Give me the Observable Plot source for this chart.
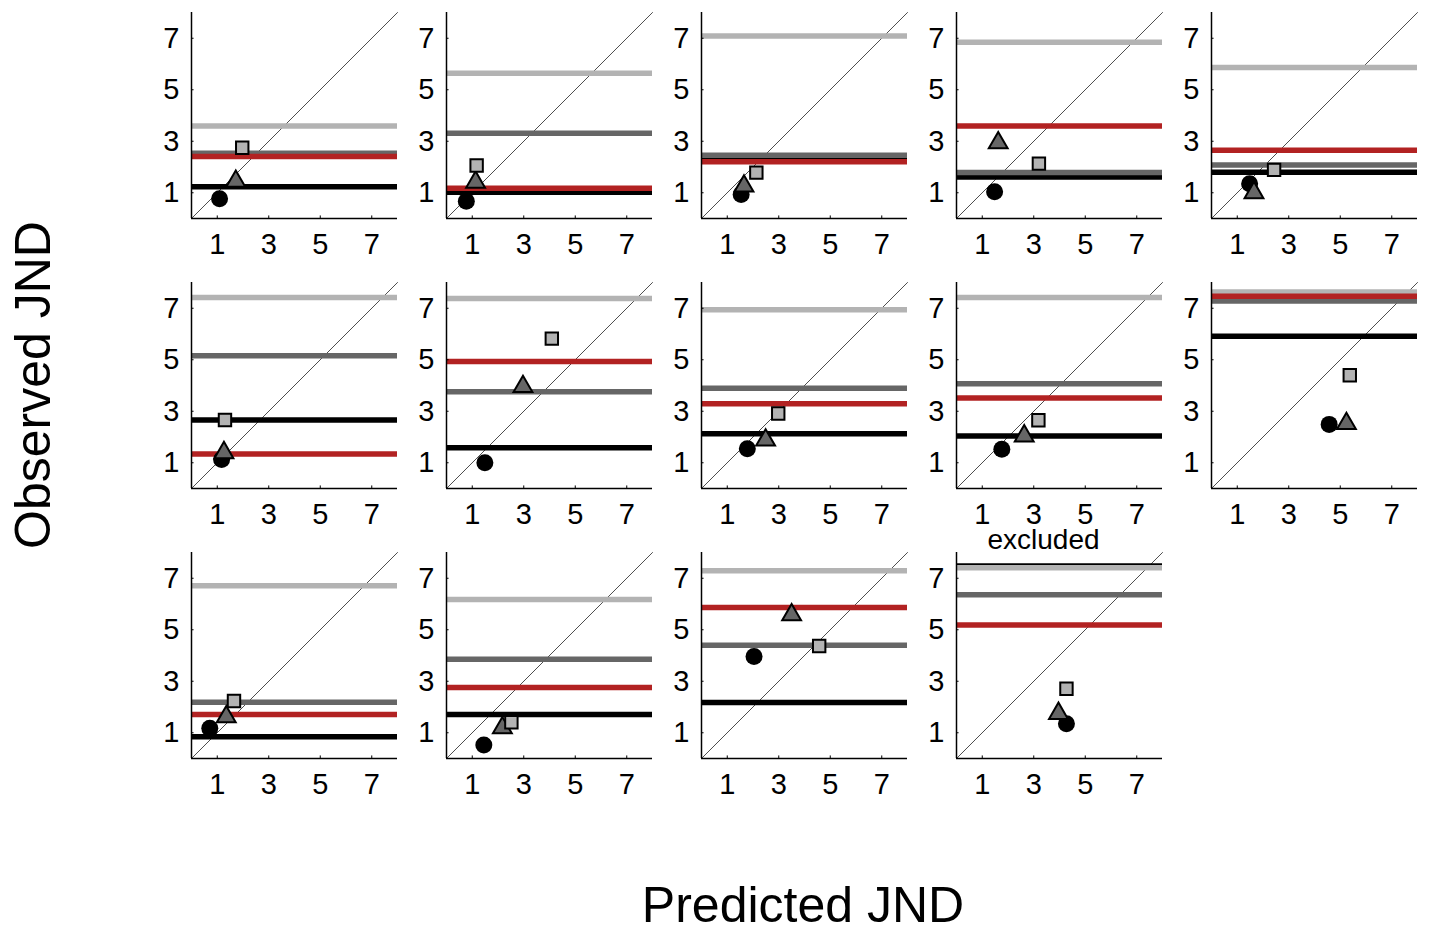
<!DOCTYPE html>
<html>
<head>
<meta charset="utf-8">
<script src="https://cdn.jsdelivr.net/npm/d3@7"></script>
<script src="https://cdn.jsdelivr.net/npm/@observablehq/plot@0.6"></script>
<style>
  body { margin: 0; background: #ffffff; }
  #chart { position: relative; width: 1429px; height: 932px; overflow: hidden; font-family: "Liberation Sans", Arial, sans-serif; background: #ffffff; }
  .panel { position: absolute; }
  .axis-label { position: absolute; font-size: 50px; line-height: 1; color: #000; white-space: nowrap; }
</style>
</head>
<body>
<div id="chart"></div>
<script>
// ---- data ----
const panelCol = [0, 1, 2, 3, 4, 0, 1, 2, 3, 4, 0, 1, 2, 3];
const panelRow = [0, 0, 0, 0, 0, 1, 1, 1, 1, 1, 2, 2, 2, 2];
const panelTitle = ["", "", "", "", "", "", "", "", "", "", "", "", "", "excluded"];

const lightGrayLine = [3.59, 5.64, 7.09, 6.84, 5.86, 7.42, 7.38, 6.94, 7.42, 7.63, 6.71, 6.17, 7.29, 7.41];
const darkGrayLine  = [2.53, 3.31, 2.46, 1.79, 2.08, 5.16, 3.76, 3.89, 4.07, 7.28, 2.18, 3.85, 4.40, 6.36];
const redLine       = [2.41, 1.17, 2.20, 3.59, 2.65, 1.34, 4.93, 3.29, 3.51, 7.47, 1.71, 2.76, 5.86, 5.18];
const blackLine     = [1.23, 1.02, 2.30, 1.61, 1.80, 2.66, 1.58, 2.13, 2.04, 5.91, 0.84, 1.71, 2.17, 7.48];

const circleX   = [1.09, 0.77, 1.54, 1.48, 1.48, 1.17, 1.49, 1.78, 1.76, 4.57, 0.71, 1.45, 2.04, 4.27];
const circleY   = [0.77, 0.67, 0.93, 1.04, 1.35, 1.13, 1.00, 1.54, 1.52, 2.49, 1.17, 0.52, 3.96, 1.35];
const triangleX = [1.72, 1.13, 1.65, 1.62, 1.65, 1.26, 2.97, 2.49, 2.63, 5.24, 1.35, 2.17, 3.50, 3.96];
const triangleY = [1.44, 1.41, 1.26, 2.94, 1.00, 1.39, 3.96, 1.88, 2.04, 2.52, 1.62, 1.19, 5.58, 1.75];
const squareX   = [1.97, 1.17, 2.13, 3.20, 2.43, 1.30, 4.09, 2.98, 3.18, 5.37, 1.65, 2.52, 4.57, 4.27];
const squareY   = [2.75, 2.06, 1.78, 2.13, 1.89, 2.66, 5.82, 2.91, 2.65, 4.40, 2.23, 1.41, 4.37, 2.71];

const ticks = [1, 3, 5, 7];
const domain = [0, 8];
const xLabel = "Predicted JND";
const yLabel = "Observed JND";

// ---- layout ----
const S = 206;            // panel inner size
const ML = 50, MR = 8, MT = 40, MB = 50;
const colStep = 255, rowStep = 270;
const firstAxisX = 191, firstTop = 12;

const colors = { black: "#000000", dark: "#666666", light: "#b3b3b3", red: "#b22222" };
const font = "'Liberation Sans', Arial, sans-serif";

const chart = document.getElementById("chart");

function makePanel(i) {
  const hLines = [
    { v: blackLine[i], c: colors.black },
    { v: darkGrayLine[i], c: colors.dark },
    { v: lightGrayLine[i], c: colors.light },
    { v: redLine[i], c: colors.red }
  ];
  return Plot.plot({
    width: ML + S + MR,
    height: MT + S + MB,
    marginLeft: ML, marginRight: MR, marginTop: MT, marginBottom: MB,
    x: { domain, label: null },
    y: { domain, label: null },
    style: { fontFamily: font, color: "#000", background: "transparent", overflow: "visible" },
    marks: [
      // identity line
      Plot.line(domain, { x: d => d, y: d => d, stroke: "#000", strokeWidth: 0.7 }),
      // horizontal reference lines
      Plot.ruleY(hLines, { y: "v", stroke: "c", strokeWidth: 5.5 }),
      // axis lines
      Plot.ruleX([domain[0]], { stroke: "#000", strokeWidth: 1.5 }),
      Plot.ruleY([domain[0]], { stroke: "#000", strokeWidth: 1.5 }),
      // inward ticks
      Plot.ruleX(ticks, { x: d => d, y1: domain[0], y2: 0.1, stroke: "#000", strokeWidth: 1 }),
      Plot.ruleY(ticks, { y: d => d, x1: domain[0], x2: 0.1, stroke: "#000", strokeWidth: 1 }),
      // tick labels
      Plot.axisX(ticks, { tickSize: 0, tickPadding: 15, fontSize: 29, label: null }),
      Plot.axisY(ticks, { tickSize: 0, tickPadding: 12, fontSize: 29, label: null }),
      // points
      Plot.dot([i], { x: j => circleX[j], y: j => circleY[j], r: 8.5, fill: "#000", stroke: "none" }),
      Plot.dot([i], { x: j => triangleX[j], y: j => triangleY[j], symbol: "triangle", r: 7, fill: colors.dark, stroke: "#000", strokeWidth: 2 }),
      Plot.dot([i], { x: j => squareX[j], y: j => squareY[j], symbol: "square", r: 7, fill: colors.light, stroke: "#000", strokeWidth: 2 }),
      // panel title
      panelTitle[i] ? Plot.text([panelTitle[i]], { frameAnchor: "top", lineAnchor: "middle", dy: -12, dx: -16, fontSize: 28, fill: "#000" }) : null
    ]
  });
}

for (let i = 0; i < panelCol.length; i++) {
  const svg = makePanel(i);
  const wrap = document.createElement("div");
  wrap.className = "panel";
  wrap.style.left = (firstAxisX + panelCol[i] * colStep - ML) + "px";
  wrap.style.top = (firstTop + panelRow[i] * rowStep - MT) + "px";
  wrap.appendChild(svg);
  chart.appendChild(wrap);
}

const xl = document.createElement("div");
xl.className = "axis-label";
xl.textContent = xLabel;
xl.style.left = "803px";
xl.style.top = "880px";
xl.style.transform = "translateX(-50%)";
chart.appendChild(xl);

const yl = document.createElement("div");
yl.className = "axis-label";
yl.textContent = yLabel;
yl.style.left = "33px";
yl.style.top = "385px";
yl.style.transform = "translate(-50%, -50%) rotate(-90deg)";
chart.appendChild(yl);
</script>
</body>
</html>
